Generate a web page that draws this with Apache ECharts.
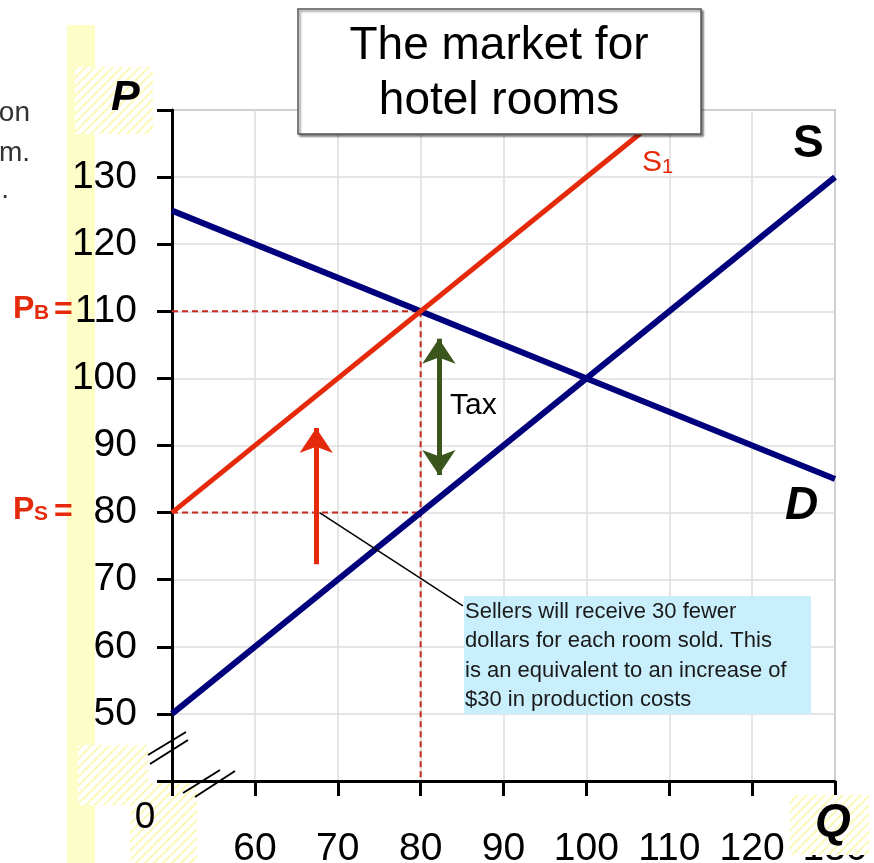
<!DOCTYPE html>
<html>
<head>
<meta charset="utf-8">
<script src="https://cdn.jsdelivr.net/npm/echarts@6/dist/echarts.min.js"></script>
<style>
  html, body { margin: 0; padding: 0; background: #fff; }
  #chart { width: 874px; height: 863px; }
</style>
</head>
<body>
<div id="chart"></div>
<script>
// Axis ranges and tick labels
const xRange = [50, 130];
const yRange = [40, 140];
const xTickLabels = [60, 70, 80, 90, 100, 110, 120, 130];
const yTickLabels = [50, 60, 70, 80, 90, 100, 110, 120, 130];

// Curves (quantity, price)
const demandLine = [[50, 125], [130, 85]];
const supplyLine = [[50, 50], [130, 130]];
const supplyTaxLine = [[50, 80], [110, 140]];

// Equilibrium with the tax
const taxQuantity = 80;
const buyerPrice = 110;
const sellerPrice = 80;

// Arrows: [x, yFrom, yTo]
const shiftArrow = [67.4, 72.3, 92.6];
const taxArrow = [82.2, 85.6, 105.9];

// Callout from the seller price line to the note
const calloutLine = [[67.8, 80], [85.1, 66.1]];

const RED = '#e52a0c';
const NAVY = '#00007c';
const DASH_RED = '#c42a1e';
const GREEN = '#3b561c';
const FONT = "'Liberation Sans', Arial, sans-serif";

function hatchPattern() {
  const s = 9;
  const c = document.createElement('canvas');
  c.width = s; c.height = s;
  const g = c.getContext('2d');
  g.fillStyle = '#ffffff';
  g.fillRect(0, 0, s, s);
  g.strokeStyle = '#fcf9b8';
  g.lineWidth = 2;
  g.beginPath();
  for (let k = -1; k <= 1; k++) {
    g.moveTo(k * s, s);
    g.lineTo(k * s + s, 0);
  }
  g.stroke();
  return { image: c, repeat: 'repeat' };
}
const hatch = hatchPattern();

function segment(data, color, width, type, z) {
  return {
    type: 'line', data: data, symbol: 'none', silent: true, animation: false,
    z: z || 2,
    lineStyle: { color: color, width: width, type: type || 'solid', cap: 'butt' }
  };
}

function arrowSeries(spec, color, both) {
  return {
    type: 'line', data: [], silent: true, animation: false, z: 4,
    markLine: {
      silent: true, animation: false,
      symbol: both ? ['arrow', 'arrow'] : ['none', 'arrow'],
      symbolSize: [25, 25],
      label: { show: false },
      lineStyle: { color: color, width: 5, type: 'solid' },
      data: [[{ coord: [spec[0], spec[1]] }, { coord: [spec[0], spec[2]] }]]
    }
  };
}

const chart = echarts.init(document.getElementById('chart'), null, { renderer: 'canvas' });

const option = {
  animation: false,
  backgroundColor: '#ffffff',
  grid: {
    left: 172, right: 39, top: 110, bottom: 82,
    containLabel: false, outerBoundsMode: 'none',
    show: true, borderColor: '#8a8a8a', borderWidth: 1.5, backgroundColor: 'transparent'
  },
  xAxis: {
    type: 'value', min: xRange[0], max: xRange[1], interval: 10,
    axisLine: { onZero: false, lineStyle: { color: '#000', width: 3 } },
    axisTick: { show: true, length: 15, lineStyle: { color: '#000', width: 3 } },
    splitLine: { show: true, lineStyle: { color: '#dcdcdc', width: 1.5 } },
    axisLabel: {
      margin: 68, color: '#000', fontSize: 39, fontFamily: FONT,
      verticalAlign: 'middle',
      formatter: v => (xTickLabels.indexOf(v) >= 0 ? String(v) : '')
    }
  },
  yAxis: {
    type: 'value', min: yRange[0], max: yRange[1], interval: 10,
    axisLine: { onZero: false, lineStyle: { color: '#000', width: 3 } },
    axisTick: { show: true, length: 15, lineStyle: { color: '#000', width: 3 } },
    splitLine: { show: true, lineStyle: { color: '#dcdcdc', width: 1.5 } },
    axisLabel: {
      margin: 35, color: '#000', fontSize: 39, fontFamily: FONT,
      formatter: v => (yTickLabels.indexOf(v) >= 0 ? String(v) : '')
    }
  },
  series: [
    segment([[xRange[0], buyerPrice], [taxQuantity, buyerPrice]], DASH_RED, 2, [6, 4], 1),
    segment([[xRange[0], sellerPrice], [taxQuantity, sellerPrice]], DASH_RED, 2, [6, 4], 1),
    segment([[taxQuantity, buyerPrice], [taxQuantity, yRange[0]]], DASH_RED, 2, [6, 4], 1),
    segment(demandLine, NAVY, 6),
    segment(supplyLine, NAVY, 6),
    segment(supplyTaxLine, RED, 5),
    segment(calloutLine, '#000', 1.5, 'solid', 3),
    arrowSeries(shiftArrow, RED, false),
    arrowSeries(taxArrow, GREEN, true)
  ],
  graphic: [
    // pale vertical band and hatched tiles behind the axis labels
    { type: 'rect', z: -10, silent: true, shape: { x: 67, y: 25, width: 28, height: 838 }, style: { fill: '#fdfdc8' } },
    { type: 'rect', z: -9, silent: true, shape: { x: 75, y: 67, width: 78, height: 67 }, style: { fill: hatch } },
    { type: 'rect', z: -9, silent: true, shape: { x: 78, y: 745, width: 70, height: 60 }, style: { fill: hatch } },
    { type: 'rect', z: -9, silent: true, shape: { x: 130, y: 783, width: 67, height: 80 }, style: { fill: hatch } },
    { type: 'rect', z: 20, silent: true, shape: { x: 789, y: 795, width: 80, height: 60 }, style: { fill: hatch } },

    // axis break marks
    { type: 'line', z: 20, silent: true, shape: { x1: 148, y1: 755, x2: 186, y2: 732 }, style: { stroke: '#000', lineWidth: 2 } },
    { type: 'line', z: 20, silent: true, shape: { x1: 150, y1: 764, x2: 188, y2: 740 }, style: { stroke: '#000', lineWidth: 2 } },
    { type: 'line', z: 20, silent: true, shape: { x1: 183, y1: 793, x2: 220, y2: 770 }, style: { stroke: '#000', lineWidth: 2 } },
    { type: 'line', z: 20, silent: true, shape: { x1: 195, y1: 797, x2: 235, y2: 771 }, style: { stroke: '#000', lineWidth: 2 } },

    // axis names and origin
    { type: 'text', z: 21, silent: true, style: { x: 111, y: 98, text: 'P', fill: '#000', font: "italic bold 43px " + FONT, verticalAlign: 'middle' } },
    { type: 'text', z: 21, silent: true, style: { x: 815, y: 823, text: 'Q', fill: '#000', font: "italic bold 46px " + FONT, verticalAlign: 'middle' } },
    { type: 'text', z: 21, silent: true, style: { x: 145, y: 818, text: '0', fill: '#000', font: "37px " + FONT, align: 'center', verticalAlign: 'middle' } },

    // curve names
    { type: 'text', z: 21, silent: true, style: { x: 793, y: 144, text: 'S', fill: '#000', font: "bold 46px " + FONT, verticalAlign: 'middle' } },
    { type: 'text', z: 21, silent: true, style: { x: 785, y: 506, text: 'D', fill: '#000', font: "italic bold 46px " + FONT, verticalAlign: 'middle' } },
    { type: 'text', z: 21, silent: true, style: { x: 642, y: 163, text: 'S', fill: RED, font: "30px " + FONT, verticalAlign: 'middle' } },
    { type: 'text', z: 21, silent: true, style: { x: 662, y: 167, text: '1', fill: RED, font: "20px " + FONT, verticalAlign: 'middle' } },

    // buyer / seller price labels
    { type: 'text', z: 21, silent: true, style: { x: 13, y: 309, text: 'P', fill: RED, font: "bold 32px " + FONT, verticalAlign: 'middle' } },
    { type: 'text', z: 21, silent: true, style: { x: 34, y: 313, text: 'B', fill: RED, font: "bold 21px " + FONT, verticalAlign: 'middle' } },
    { type: 'text', z: 21, silent: true, style: { x: 54, y: 310, text: '=', fill: RED, font: "bold 32px " + FONT, verticalAlign: 'middle' } },
    { type: 'text', z: 21, silent: true, style: { x: 13, y: 510, text: 'P', fill: RED, font: "bold 32px " + FONT, verticalAlign: 'middle' } },
    { type: 'text', z: 21, silent: true, style: { x: 34, y: 514, text: 'S', fill: RED, font: "bold 21px " + FONT, verticalAlign: 'middle' } },
    { type: 'text', z: 21, silent: true, style: { x: 54, y: 512, text: '=', fill: RED, font: "bold 32px " + FONT, verticalAlign: 'middle' } },

    // tax label
    { type: 'text', z: 21, silent: true, style: { x: 450, y: 406, text: 'Tax', fill: '#000', font: "30px " + FONT, verticalAlign: 'middle' } },

    // left margin text fragments
    { type: 'text', z: 21, silent: true, style: { x: 30, y: 113, text: 'on', fill: '#333', font: "28px " + FONT, align: 'right', verticalAlign: 'middle' } },
    { type: 'text', z: 21, silent: true, style: { x: 30, y: 153, text: 'm.', fill: '#333', font: "28px " + FONT, align: 'right', verticalAlign: 'middle' } },
    { type: 'text', z: 21, silent: true, style: { x: 9, y: 190, text: '.', fill: '#333', font: "28px " + FONT, align: 'right', verticalAlign: 'middle' } },

    // title box
    {
      type: 'rect', z: 30, silent: true,
      shape: { x: 298, y: 9, width: 403, height: 125 },
      style: { fill: '#fff', stroke: '#555', lineWidth: 1.5, shadowColor: 'rgba(0,0,0,0.45)', shadowOffsetX: 2, shadowOffsetY: 2, shadowBlur: 2 }
    },
    { type: 'text', z: 31, silent: true, style: { x: 499, y: 46, text: 'The market for', fill: '#000', font: "46px " + FONT, align: 'center', verticalAlign: 'middle' } },
    { type: 'text', z: 31, silent: true, style: { x: 499, y: 101, text: 'hotel rooms', fill: '#000', font: "46px " + FONT, align: 'center', verticalAlign: 'middle' } },

    // note box
    { type: 'rect', z: 30, silent: true, shape: { x: 464, y: 596, width: 347, height: 118 }, style: { fill: '#c9eefc' } },
    {
      type: 'text', z: 31, silent: true,
      style: {
        x: 465, y: 597, fill: '#1a1a1a', font: "22px " + FONT, lineHeight: 29.5, verticalAlign: 'top',
        text: 'Sellers will receive 30 fewer\ndollars for each room sold. This\nis an equivalent to an increase of\n$30 in production costs'
      }
    }
  ]
};

chart.setOption(option);
</script>
</body>
</html>
